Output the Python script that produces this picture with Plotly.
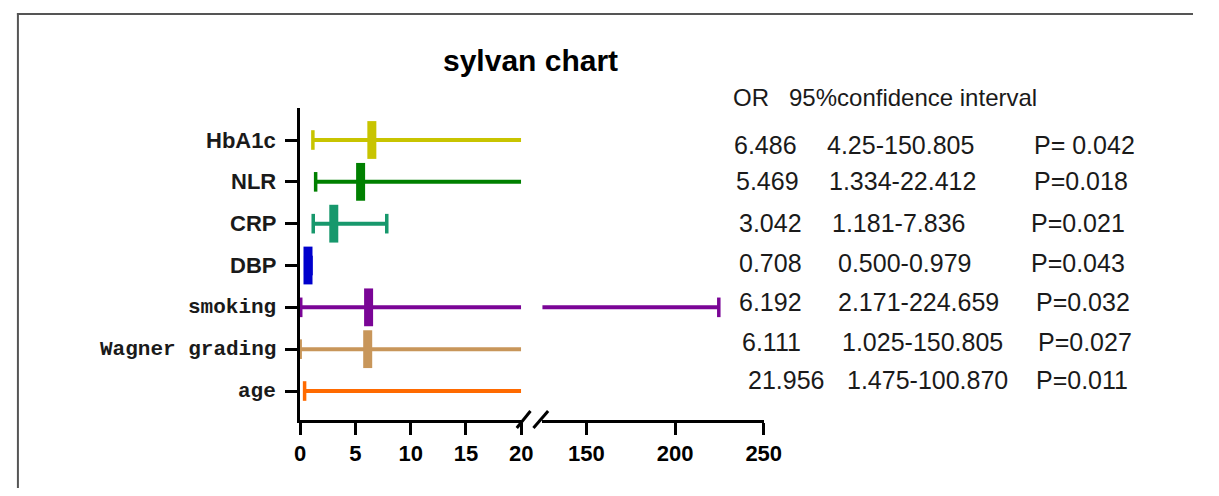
import plotly.graph_objects as go

# ---------------- data ----------------
categories = ["HbA1c", "NLR", "CRP", "DBP", "smoking", "Wagner grading", "age"]
odds_ratio = [6.486, 5.469, 3.042, 0.708, 6.192, 6.111, 21.956]
ci_low = [1.15, 1.40, 1.181, 0.500, 0.05, 0.0, 0.40]
ci_high = [100.0, 22.412, 7.836, 0.979, 224.659, 100.0, 100.870]
colors = ["#c8c400", "#008000", "#17986c", "#0000cc", "#7a0596", "#c8965a", "#ff6a00"]

or_text = ["6.486", "5.469", "3.042", "0.708", "6.192", "6.111", "21.956"]
ci_text = ["4.25-150.805", "1.334-22.412", "1.181-7.836", "0.500-0.979",
           "2.171-224.659", "1.025-150.805", "1.475-100.870"]
p_text = ["P= 0.042", "P=0.018", "P=0.021", "P=0.043", "P=0.032", "P=0.027", "P=0.011"]

seg1_ticks = [0, 5, 10, 15, 20]
seg2_ticks = [150, 200, 250]
seg1_range = [0, 20]
seg2_range = [125.1, 250]

# ---------------- layout helpers ----------------
# page body has an 8px margin; map reference pixel positions into figure space
OFF = 8
W, H = 1219 - 2 * OFF, 496 - 2 * OFF
def px(x):
    return (x - OFF) / W
def py(y):
    return 1 - (y - OFF) / H

serif_labels = {"smoking", "Wagner grading", "age"}
n = len(categories)
yvals = [n - 1 - i for i in range(n)]

fig = go.Figure()
for xa, rng in (("x", seg1_range), ("x2", seg2_range)):
    for i, c in enumerate(categories):
        col = colors[i]
        y = yvals[i]
        # keep only the visible part of each interval on this axis segment
        lo = max(ci_low[i], rng[0])
        hi = min(ci_high[i], rng[1])
        if lo < hi:
            fig.add_trace(go.Scatter(
                x=[lo, hi], y=[y, y], xaxis=xa, yaxis="y",
                mode="lines", line=dict(color=col, width=4), showlegend=False,
                hoverinfo="skip"))
        caps = [v for v in (ci_low[i], ci_high[i]) if rng[0] <= v <= rng[1]]
        if caps:
            fig.add_trace(go.Scatter(
                x=caps, y=[y] * len(caps), xaxis=xa, yaxis="y", mode="markers",
                marker=dict(symbol="line-ns", size=14, line=dict(color=col, width=3.5)),
                cliponaxis=False, showlegend=False, hoverinfo="skip"))
        if rng[0] <= odds_ratio[i] <= rng[1]:
            fig.add_trace(go.Scatter(
                x=[odds_ratio[i]], y=[y], xaxis=xa, yaxis="y", mode="markers",
                marker=dict(symbol="line-ns", size=27, line=dict(color=col, width=9)),
                cliponaxis=False, showlegend=False, name=c))

axis_common = dict(showline=True, linecolor="black", linewidth=3, ticks="outside",
                   ticklen=12, tickwidth=3, tickcolor="black", showgrid=False,
                   zeroline=False, tickfont=dict(family="Liberation Sans, Arial", size=22,
                                                 color="black", weight="bold"))
fig.update_layout(
    width=W, height=H, margin=dict(l=0, r=0, t=0, b=0),
    paper_bgcolor="white", plot_bgcolor="white",
    xaxis=dict(domain=[px(300), px(525.5)], range=seg1_range, tickvals=seg1_ticks,
               anchor="y", **axis_common),
    xaxis2=dict(domain=[px(547), px(773)], range=seg2_range, tickvals=seg2_ticks,
                anchor="y", **axis_common),
    yaxis=dict(domain=[py(420), py(108)], range=[-0.693, 6.765], tickvals=yvals,
               showticklabels=False, anchor="x", showline=True, linecolor="black",
               linewidth=3, ticks="outside", ticklen=12, tickwidth=3, tickcolor="black",
               showgrid=False, zeroline=False),
)

# category labels (mixed fonts as in the original)
for i, c in enumerate(categories):
    if c in serif_labels:
        f = dict(family="Liberation Mono, Courier New", size=21, color="#1a1a1a", weight="bold")
    else:
        f = dict(family="Liberation Sans, Arial", size=22, color="#1a1a1a", weight="bold")
    fig.add_annotation(text=c, xref="paper", yref="y", x=px(277), y=yvals[i],
                       xanchor="right", yanchor="middle", showarrow=False, font=f)

# axis break marks
for x0, x1 in ((521, 535), (538, 553)):
    fig.add_shape(type="line", xref="paper", yref="paper", x0=px(x0), y0=py(428),
                  x1=px(x1), y1=py(411), line=dict(color="black", width=3))

# outer frame (top and left edges; the rest runs off the picture)
fig.add_shape(type="line", xref="paper", yref="paper", x0=px(11), y0=py(14),
              x1=1, y1=py(14), line=dict(color="#555555", width=2))
fig.add_shape(type="line", xref="paper", yref="paper", x0=px(12), y0=py(13),
              x1=px(12), y1=0, line=dict(color="#555555", width=2))

# title
fig.add_annotation(text="<b>sylvan chart</b>", xref="paper", yref="paper",
                   x=px(535), y=py(60), xanchor="center", yanchor="middle",
                   showarrow=False, font=dict(family="Liberation Sans, Arial", size=30, color="black"))

# table header
tfont = dict(family="Liberation Sans, Arial", size=24, color="#1a1a1a")
fig.add_annotation(text="OR", xref="paper", yref="paper", x=px(740), y=py(97),
                   xanchor="left", yanchor="middle", showarrow=False, font=tfont)
fig.add_annotation(text="95%confidence interval", xref="paper", yref="paper", x=px(797),
                   y=py(97), xanchor="left", yanchor="middle", showarrow=False, font=tfont)

row_y = [145, 181, 223, 263, 302, 342, 380]
or_x = [741, 743, 746, 746, 746, 749, 755]
ci_x = [835, 838, 841, 847, 847, 851, 856]
p_x = [1047, 1047, 1044, 1044, 1049, 1051, 1049]
rfont = dict(family="Liberation Sans, Arial", size=25, color="#1a1a1a")
for i in range(n):
    for txt, xx in ((or_text[i], or_x[i]), (ci_text[i], ci_x[i]), (p_text[i], p_x[i])):
        fig.add_annotation(text=txt, xref="paper", yref="paper", x=px(xx), y=py(row_y[i]),
                           xanchor="left", yanchor="middle", showarrow=False, font=rfont)

fig.write_html("out.html")
